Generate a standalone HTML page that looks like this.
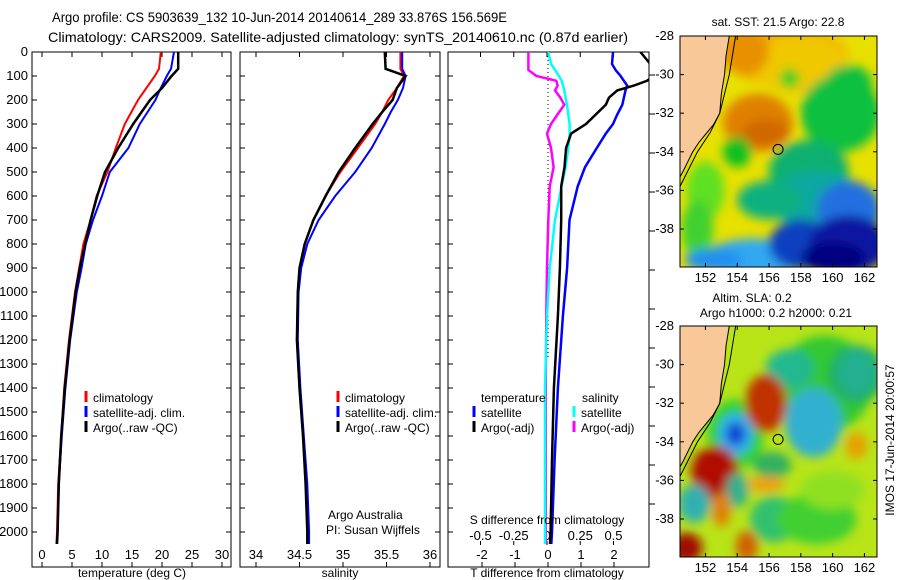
<!DOCTYPE html>
<html><head><meta charset="utf-8"><style>
body{margin:0;background:#fff}
svg{display:block;font-family:"Liberation Sans",sans-serif}
text{fill:#000}
</style></head><body>
<svg id="c" width="900" height="580" viewBox="0 0 900 580" xmlns="http://www.w3.org/2000/svg">
<defs>
<clipPath id="cp1"><rect x="32" y="52" width="199" height="515"/></clipPath>
<clipPath id="cp2"><rect x="240" y="52" width="200" height="515"/></clipPath>
<clipPath id="cp3"><rect x="448" y="52" width="201" height="515"/></clipPath>
<clipPath id="cm1"><rect x="680" y="36" width="197" height="231"/></clipPath>
<clipPath id="cm2"><rect x="680" y="326" width="197" height="231"/></clipPath>
<filter id="bl" x="-50%" y="-50%" width="200%" height="200%"><feGaussianBlur stdDeviation="5"/></filter>
</defs>
<text x="52" y="22" font-size="14" textLength="455" lengthAdjust="spacingAndGlyphs">Argo profile: CS 5903639_132 10-Jun-2014 20140614_289 33.876S 156.569E</text>
<text x="48" y="42" font-size="14" textLength="580" lengthAdjust="spacingAndGlyphs">Climatology: CARS2009. Satellite-adjusted climatology: synTS_20140610.nc (0.87d earlier)</text>
<g id="g"></g>
</svg>
<script>
const depthT=[0,70,100,150,200,250,300,400,500,600,700,800,900,1000,1200,1400,1600,1800,2000,2050];
const tempClim=[19.8,19.5,18.8,17.4,16.0,14.9,13.8,12.3,10.9,9.1,8.1,6.9,6.2,5.5,4.5,3.7,3.2,2.7,2.5,2.4];
const tempSat=[22.0,21.5,20.8,19.8,18.9,17.6,16.3,14.4,11.3,10.0,8.5,7.3,6.6,5.8,4.7,3.9,3.3,2.8,2.6,2.5];
const tempArgo=[22.7,22.7,21.6,20.0,18.0,16.6,15.2,12.7,10.5,9.2,8.1,7.2,6.3,5.6,4.6,3.8,3.2,2.8,2.6,2.5];
const salClim=[35.66,35.66,35.70,35.62,35.52,35.45,35.37,35.17,34.97,34.80,34.66,34.56,34.50,34.48,34.47,34.50,34.54,34.58,34.60,34.60];
const salSat=[35.68,35.68,35.72,35.69,35.63,35.55,35.48,35.33,35.14,34.91,34.72,34.59,34.52,34.49,34.48,34.51,34.55,34.59,34.61,34.61];
const salArgo=[35.48,35.49,35.72,35.62,35.57,35.45,35.34,35.14,34.95,34.80,34.66,34.56,34.50,34.48,34.47,34.50,34.54,34.57,34.59,34.59];
const depthD=[0,50,75,100,120,140,160,190,220,260,300,340,400,480,560,700,900,1100,1400,1700,2000,2050];
const dSArgo=[-0.14,-0.14,-0.14,-0.08,0.07,0.08,0.06,0.1,0.13,0.08,0.03,0.0,0.03,0.05,0.02,0.01,0.0,-0.005,-0.01,-0.01,-0.01,-0.01];
const dSSat=[0.01,0.03,0.06,0.09,0.11,0.12,0.13,0.14,0.15,0.16,0.17,0.17,0.16,0.14,0.11,0.06,0.02,0.0,-0.015,-0.015,-0.015,-0.015];
const dTSat=[1.97,1.94,2.05,2.2,2.3,2.4,2.35,2.3,2.25,2.1,1.97,1.75,1.48,1.12,0.9,0.65,0.58,0.45,0.3,0.2,0.12,0.1];
const dTArgo=[2.8,3.1,3.2,3.2,3.0,2.6,2.1,1.85,1.75,1.45,1.15,0.7,0.55,0.5,0.4,0.4,0.36,0.3,0.18,0.12,0.08,0.06];
const depthTicks=[0,100,200,300,400,500,600,700,800,900,1000,1100,1200,1300,1400,1500,1600,1700,1800,1900,2000];
const tempTicks=[0,5,10,15,20,25,30];
const salTicks=[34,34.5,35,35.5,36];
const salTickLabels=["34","34.5","35","35.5","36"];
const dTTicks=[-2,-1,0,1,2];
const dSTicks=[-0.5,-0.25,0,0.25,0.5];
const dSTickLabels=["-0.5","-0.25","0","0.25","0.5"];
const lonTicks=[152,154,156,158,160,162];
const latTicks=[-28,-30,-32,-34,-36,-38];
const argoLon=156.569, argoLat=-33.876;
const coastLon=[153.5,153.3,153.2,153.0,152.9,152.5,152.1,151.6,151.2,150.9,150.6,150.4,150.0];
const coastLat=[-28,-29,-30,-31,-32,-32.6,-33,-33.5,-34,-34.5,-35,-35.3,-35.6];
const contLon=[153.9,153.7,153.5,153.2,152.9,152.3,151.5,150.4];
const contLat=[-28,-29,-30,-31,-32,-33,-34,-35.8];
// SST blobs: lon, lat, rx, ry (deg), colour
const sstLon=[157,158,155.3,155.8,157.3,160.5,161,158.5,154,159,156,161,152,151.5,155,158,161,160,152.5,154.5];
const sstLat=[-29,-29.5,-32.5,-33,-30.2,-32,-30.5,-35,-34,-36.5,-36.5,-37,-36,-38,-39.5,-38.8,-38.8,-39.5,-39.6,-28.8];
const sstRx=[4,3,2.2,1.5,0.6,2.5,1.5,2.5,0.9,3,2,2,1.2,1,3,2,2.5,2,1.8,1.5];
const sstRy=[1.5,1.5,1.5,0.7,0.5,2,1,1.6,0.8,1.5,1,1.5,1.5,1.5,1,1.3,1.5,0.8,0.6,1.2];
const sstCol=["#f0b000","#f0c800","#e08000","#d06800","#30d020","#10c040","#10c040","#10b070","#10c020","#10a8a0","#10b080","#2070e0","#60e020","#40d030","#30a8f0","#1040c0","#0818a0","#000080","#2090f0","#e89000"];
// SLA blobs
const slaLon=[159.5,161.5,157.3,158.8,161.5,153.9,153.9,153.9,152.6,155.8,150.8,154.6,161.5,151.3,154,156.3,156.2,159,155.8,153,160];
const slaLat=[-31,-30.5,-30.2,-33,-30.4,-33.6,-33.6,-33.6,-35.6,-32,-39.5,-39.4,-34.2,-37.2,-36.5,-38,-35.2,-38,-36.2,-37.5,-36.5];
const slaRx=[3,1.8,1.5,1.8,1.2,1.8,1.1,0.6,1.5,1.3,1,0.7,0.7,1,0.7,1.5,1.2,2.5,1.2,0.6,2];
const slaRy=[2.5,1.5,1,1.8,1.2,1.8,1.1,0.6,1.4,1.5,0.8,0.8,0.7,1,0.9,1.2,0.7,1.3,0.4,0.9,1];
const slaCol=["#30c830","#20b060","#20b890","#30b0d0","#20b090","#30d030","#30b0f0","#1040d0","#b01000","#c03000","#a01000","#d06000","#e8a000","#30b0b0","#30b090","#30c070","#30b060","#40d030","#f0a000","#e08000","#90e020"];

const NS='http://www.w3.org/2000/svg';
const G=document.getElementById('g');
function el(t,a,p){const e=document.createElementNS(NS,t);for(const k in a)e.setAttribute(k,a[k]);(p||G).appendChild(e);return e;}
function txt(x,y,s,a,p){const e=el('text',Object.assign({x:x,y:y,'font-size':13},a||{}),p);e.textContent=s;return e;}
const yD=d=>52+d*0.24;

function frame(x0,x1,name){
  const r=el('rect',{x:x0,y:52,width:x1-x0,height:515,fill:'none',stroke:'#000','stroke-width':1});
  
  
}
function line(xs,ds,fx,col,w,clip,name){
  const pts=xs.map((v,i)=>fx(v).toFixed(1)+','+yD(ds[i]).toFixed(1)).join(' ');
  const p=el('polyline',{points:pts,fill:'none',stroke:col,'stroke-width':w,'clip-path':'url(#'+clip+')'});
  
  
}
function legendRow(x,y,col,label,name){
  const g=el('g',{});
  
  
  el('line',{x1:x,y1:y-11,x2:x,y2:y,stroke:col,'stroke-width':3},g);
  txt(x+7,y,label,{'font-size':12},g);
}

// Panel 1 temperature
const fT=v=>42+v*6;
frame(32,231,'temperature-panel');
depthTicks.forEach(d=>{const y=yD(d);el('line',{x1:32,y1:y,x2:37,y2:y,stroke:'#000'});el('line',{x1:226,y1:y,x2:231,y2:y,stroke:'#000'});
  const t=txt(28,y+4,String(d),{'text-anchor':'end'});});
tempTicks.forEach(v=>{const x=fT(v);el('line',{x1:x,y1:567,x2:x,y2:562,stroke:'#000'});el('line',{x1:x,y1:52,x2:x,y2:57,stroke:'#000'});
  const t=txt(x,559,String(v),{'text-anchor':'middle'});});
line(tempClim,depthT,fT,'#f00',2,'cp1','temp-climatology-line');
line(tempSat,depthT,fT,'#00f',2,'cp1','temp-satellite-line');
line(tempArgo,depthT,fT,'#000',2.5,'cp1','temp-argo-line');
legendRow(86,402,'#f00','climatology','legend-climatology');
legendRow(86,417,'#00f','satellite-adj. clim.','legend-satellite');
legendRow(86,432,'#000','Argo(..raw -QC)','legend-argo');
{const t=txt(132,577,'temperature (deg C)',{'text-anchor':'middle','font-size':12});}

// Panel 2 salinity
const fS=v=>256+(v-34)*87;
frame(240,440,'salinity-panel');
depthTicks.forEach(d=>{const y=yD(d);el('line',{x1:240,y1:y,x2:245,y2:y,stroke:'#000'});el('line',{x1:435,y1:y,x2:440,y2:y,stroke:'#000'});});
salTicks.forEach((v,i)=>{const x=fS(v);el('line',{x1:x,y1:567,x2:x,y2:562,stroke:'#000'});el('line',{x1:x,y1:52,x2:x,y2:57,stroke:'#000'});
  const t=txt(x,559,salTickLabels[i],{'text-anchor':'middle'});});
line(salClim,depthT,fS,'#f00',2,'cp2','sal-climatology-line');
line(salSat,depthT,fS,'#00f',2,'cp2','sal-satellite-line');
line(salArgo,depthT,fS,'#000',2.5,'cp2','sal-argo-line');
legendRow(338,402,'#f00','climatology','legend2-climatology');
legendRow(338,417,'#00f','satellite-adj. clim.','legend2-satellite');
legendRow(338,432,'#000','Argo(..raw -QC)','legend2-argo');
txt(328,519,'Argo Australia',{'font-size':12});
txt(326,534,'PI: Susan Wijffels',{'font-size':12});
{const t=txt(340,577,'salinity',{'text-anchor':'middle','font-size':12});}

// Panel 3 differences
const fdT=v=>548+v*33;
const fdS=v=>547+v*133;
frame(448,649,'difference-panel');
depthTicks.forEach(d=>{const y=yD(d);el('line',{x1:448,y1:y,x2:453,y2:y,stroke:'#000'});});
for(let i=0;i<12;i++){const y=75+i*39;el('line',{x1:649,y1:y,x2:655,y2:y,stroke:'#000'});}
el('line',{x1:548,y1:52,x2:548,y2:360,stroke:'#000','stroke-dasharray':'1,3'});
dTTicks.forEach(v=>{const x=fdT(v);el('line',{x1:x,y1:567,x2:x,y2:562,stroke:'#000'});
  const t=txt(x,559,String(v),{'text-anchor':'middle'});});
dSTicks.forEach((v,i)=>{const x=fdS(v);el('line',{x1:x,y1:52,x2:x,y2:57,stroke:'#000'});el('line',{x1:x,y1:545,x2:x,y2:541,stroke:'#000'});
  const t=txt(x,540,dSTickLabels[i],{'text-anchor':'middle'});});
line(dSArgo,depthD,fdS,'#f0f',2.5,'cp3','s-diff-argo-line');
line(dSSat,depthD,fdS,'#0ff',2.5,'cp3','s-diff-satellite-line');
line(dTSat,depthD,fdT,'#00f',2.5,'cp3','t-diff-satellite-line');
line(dTArgo,depthD,fdT,'#000',2.5,'cp3','t-diff-argo-line');
txt(481,402,'temperature',{'font-size':12});
legendRow(474,417,'#00f','satellite','legend3-t-satellite');
legendRow(474,432,'#000','Argo(-adj)','legend3-t-argo');
txt(582,402,'salinity',{'font-size':12});
legendRow(574,417,'#0ff','satellite','legend3-s-satellite');
legendRow(574,432,'#f0f','Argo(-adj)','legend3-s-argo');
{const t=txt(547,524,'S difference from climatology',{'text-anchor':'middle','font-size':12});}
{const t=txt(547,577,'T difference from climatology',{'text-anchor':'middle','font-size':12});}

// Maps
function map(y0,clip,bg,lons,lats,rxs,rys,cols,name){
  const fx=v=>680+(v-150.4)*15.9, fy=v=>y0+(-28-v)*19.3;
  const g=el('g',{'clip-path':'url(#'+clip+')'});
  
  
  el('rect',{x:680,y:y0,width:197,height:231,fill:bg},g);
  const b=el('g',{filter:'url(#bl)'},g);
  lons.forEach((v,i)=>{el('ellipse',{cx:fx(v),cy:fy(lats[i]),rx:rxs[i]*15.9,ry:rys[i]*19.3,fill:cols[i]},b);});
  let lp=coastLon.map((v,i)=>fx(v)+','+fy(coastLat[i])).join(' ');
  lp+=' '+fx(149)+','+fy(-40)+' '+fx(149)+','+fy(-27);
  const land=el('polygon',{points:lp,fill:'#f8c898',stroke:'#000','stroke-width':1},g);
  
  
  el('polyline',{points:contLon.map((v,i)=>fx(v)+','+fy(contLat[i])).join(' '),fill:'none',stroke:'#000','stroke-width':1},g);
  const m=el('circle',{cx:fx(argoLon),cy:fy(argoLat),r:5,fill:'none',stroke:'#000'});
  
  
  el('rect',{x:680,y:y0,width:197,height:231,fill:'none',stroke:'#000'});
  lonTicks.forEach(v=>{const x=fx(v);el('line',{x1:x,y1:y0,x2:x,y2:y0+4,stroke:'#000'});el('line',{x1:x,y1:y0+231,x2:x,y2:y0+227,stroke:'#000'});
    const t=txt(x,y0+246,String(v),{'text-anchor':'middle'});});
  latTicks.forEach(v=>{const y=fy(v);el('line',{x1:680,y1:y,x2:684,y2:y,stroke:'#000'});el('line',{x1:877,y1:y,x2:873,y2:y,stroke:'#000'});
    const t=txt(674,y+4,String(v),{'text-anchor':'end'});});
}
map(36,'cm1','#e8e000',sstLon,sstLat,sstRx,sstRy,sstCol,'sst-map');
map(326,'cm2','#b8e418',slaLon,slaLat,slaRx,slaRy,slaCol,'sla-map');
txt(778,26,'sat. SST: 21.5 Argo: 22.8',{'text-anchor':'middle','font-size':12});
txt(752,302,'Altim. SLA: 0.2',{'text-anchor':'middle','font-size':12});
txt(776,317,'Argo h1000: 0.2 h2000: 0.21',{'text-anchor':'middle','font-size':12});
{const t=txt(0,0,'IMOS 17-Jun-2014 20:00:57',{'text-anchor':'middle','font-size':12,transform:'translate(894,440) rotate(-90)'});}
</script>
</body></html>
